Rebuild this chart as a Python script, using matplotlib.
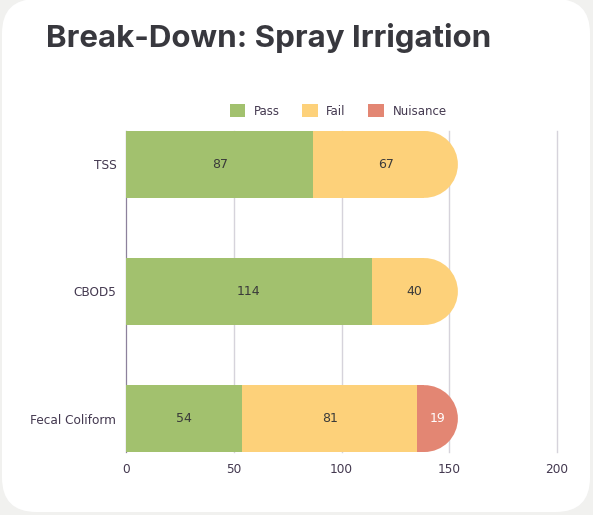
import matplotlib.pyplot as plt
from matplotlib.patches import FancyBboxPatch, Rectangle, Ellipse, Patch

# data
categories = ['TSS', 'CBOD5', 'Fecal Coliform']
pass_vals = [87, 114, 54]
fail_vals = [67, 40, 81]
nuisance_vals = [0, 0, 19]
series_names = ['Pass', 'Fail', 'Nuisance']
colors = ['#a2c16e', '#fdd17a', '#e38673']
label_colors = ['#3a3a3a', '#3a3a3a', '#ffffff']
xticks = [0, 50, 100, 150, 200]

txt_col = '#43384f'
W, H = 593, 515

fig = plt.figure(figsize=(W / 100, H / 100), dpi=100)
fig.patch.set_facecolor('#f1f1ef')

# white card behind everything
card = FancyBboxPatch((2 / W, 3 / H), 588 / W, 513 / H,
                      boxstyle='round,pad=0,rounding_size=0.058',
                      transform=fig.transFigure, facecolor='white',
                      edgecolor='none', zorder=-5, mutation_aspect=W / H)
fig.patches.append(card)

fig.text(46 / W, 1 - 38 / H, 'Break-Down: Spray Irrigation', fontsize=22.5,
         fontweight='bold', family='Inter',
         color='#38383e', va='center', ha='left')

left, right, top, bottom = 126, 557, 131, 452
ax = fig.add_axes([left / W, 1 - bottom / H, (right - left) / W, (bottom - top) / H])
ax.set_facecolor('none')
ax.set_xlim(0, 200)
ax.set_ylim(2.263, -0.263)

bar_h = 0.526
# px per data unit, used for the rounded right end
px_x = (right - left) / 200.0
px_y = (bottom - top) / 2.526
rx = (bar_h / 2 * px_y) / px_x

series = [pass_vals, fail_vals, nuisance_vals]
for i, cat in enumerate(categories):
    vals = [s[i] for s in series]
    last = max(k for k, v in enumerate(vals) if v > 0)
    start = 0
    for k, v in enumerate(vals):
        if v <= 0:
            continue
        if k == last:
            clip = Rectangle((start, i - bar_h / 2), v, bar_h, transform=ax.transData)
            r = Rectangle((start, i - bar_h / 2), v - rx, bar_h, facecolor=colors[k],
                          edgecolor='none', zorder=3)
            ax.add_patch(r)
            e = Ellipse((start + v - rx, i), 2 * rx, bar_h, facecolor=colors[k],
                        edgecolor='none', zorder=3)
            ax.add_patch(e)
            e.set_clip_path(clip)
        else:
            ax.barh(i, v, left=start, height=bar_h, color=colors[k], zorder=3)
        ax.text(start + v / 2, i, str(v), ha='center', va='center', fontsize=9,
                color=label_colors[k], zorder=4)
        start += v

ax.set_yticks(range(len(categories)))
ax.set_yticklabels(categories)
ax.set_xticks(xticks)
ax.tick_params(length=0, labelsize=8.7, labelcolor=txt_col)
ax.tick_params(axis='y', pad=7)
ax.tick_params(axis='x', pad=8)
ax.xaxis.grid(True, color='#d6d3db', linewidth=1, zorder=1)
for gl in ax.get_xgridlines():
    gl.set_clip_on(False)
ax.set_axisbelow(True)
for s in ['top', 'right', 'bottom']:
    ax.spines[s].set_visible(False)
ax.spines['left'].set_color('#8d819c')
ax.spines['left'].set_zorder(2)

handles = [Patch(facecolor=c, edgecolor='none') for c in colors]
ax.legend(handles, series_names, loc='center', bbox_to_anchor=(0.492, 1 + 20 / (bottom - top)),
          ncol=3, frameon=False, fontsize=8.5, handlelength=1.35, handleheight=1.35,
          columnspacing=1.9, handletextpad=0.7, labelcolor=txt_col)

fig.savefig('out.png', dpi=100, facecolor=fig.get_facecolor())
